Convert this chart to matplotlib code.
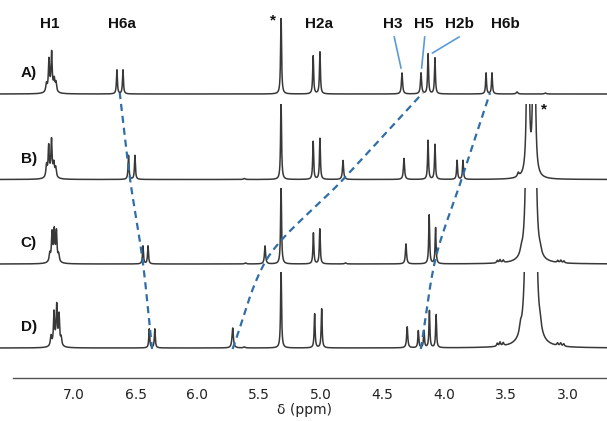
import numpy as np
import matplotlib
matplotlib.use("Agg")
import matplotlib.pyplot as plt
from matplotlib.patches import Rectangle

# ---------------- data ----------------
# each peak: (shift in ppm, intensity, half width at half max in ppm)
spectrum_labels = ["A)", "B)", "C)", "D)"]

peaks_A = [
    (7.223, 8, 0.006), (7.203, 30, 0.005), (7.181, 35, 0.005), (7.160, 11, 0.006), (7.146, 9, 0.006),
    (7.185, 6, 0.025),
    (6.652, 24, 0.0045), (6.603, 24, 0.0045),
    (5.322, 80, 0.0045),
    (5.062, 38, 0.0045), (5.007, 42, 0.0045),
    (4.342, 21, 0.0055),
    (4.188, 21, 0.0055),
    (4.131, 40, 0.0045), (4.075, 36, 0.0045),
    (3.661, 21, 0.0045), (3.613, 21, 0.0045),
    (3.410, 2, 0.008), (3.180, 1, 0.008),
]

peaks_B = [
    (7.222, 12, 0.006), (7.205, 29, 0.005), (7.182, 33, 0.005), (7.163, 12, 0.006), (7.148, 9, 0.006),
    (7.185, 6, 0.025),
    (6.558, 24, 0.0045), (6.506, 24, 0.0045),
    (5.322, 80, 0.0045),
    (5.062, 38, 0.0045), (5.007, 41, 0.0045),
    (4.820, 19, 0.0055),
    (4.326, 21, 0.0055),
    (4.131, 39, 0.0045), (4.075, 35, 0.0045),
    (3.896, 19, 0.0045), (3.848, 19, 0.0045),
    (3.400, 4, 0.008), (5.620, 1, 0.008),
    (3.322, 620, 0.005), (3.272, 620, 0.005),
]

peaks_C = [
    (7.196, 8, 0.006), (7.178, 27, 0.005), (7.160, 27, 0.005), (7.142, 28, 0.005), (7.124, 7, 0.006),
    (7.160, 6, 0.025),
    (6.441, 18, 0.0045), (6.400, 18, 0.0045),
    (5.452, 18, 0.0055),
    (5.322, 80, 0.0045),
    (5.060, 31, 0.0045), (5.008, 35, 0.0045),
    (4.310, 20, 0.0055),
    (4.122, 49, 0.0045), (4.070, 36, 0.0045),
    (5.610, 1, 0.008), (4.800, 1, 0.008),
    (3.322, 1450, 0.005), (3.272, 1450, 0.005),
    (3.375, 5, 0.010), (3.222, 4, 0.010),
    (3.570, 2.5, 0.006), (3.548, 3, 0.006), (3.522, 2.5, 0.006),
    (3.080, 2, 0.006), (3.055, 2.5, 0.006), (3.030, 2, 0.006),
]

peaks_D = [
    (7.186, 10, 0.006), (7.162, 31, 0.005), (7.140, 36, 0.005), (7.121, 29, 0.005), (7.104, 8, 0.006),
    (7.145, 6, 0.025),
    (6.390, 19, 0.0045), (6.345, 19, 0.0045),
    (5.714, 20, 0.0065),
    (5.322, 80, 0.0045),
    (5.050, 34, 0.0045), (4.993, 39, 0.0045),
    (4.300, 21, 0.0055),
    (4.210, 17, 0.0045), (4.164, 17, 0.0045),
    (4.120, 37, 0.0045), (4.066, 33, 0.0045),
    (5.620, 1, 0.008),
    (3.322, 2300, 0.005), (3.272, 2300, 0.005),
    (3.382, 8, 0.010), (3.222, 7, 0.010),
    (3.570, 3, 0.006), (3.548, 4, 0.006), (3.522, 3, 0.006),
    (3.082, 2.5, 0.006), (3.057, 3, 0.006), (3.032, 2.5, 0.006),
]

all_peaks = [peaks_A, peaks_B, peaks_C, peaks_D]

# shifts followed by the dashed guide lines (one value per spectrum A..D)
track_H6a = [6.628, 6.545, 6.440, 6.368]
track_H5 = [4.182, 4.820, 5.460, 5.712]
track_H6b = [3.632, 3.860, 4.080, 4.188]

# peak assignment labels: (text, shift)
top_labels = [("H1", 7.194), ("H6a", 6.611), ("H2a", 5.015), ("H3", 4.415),
              ("H5", 4.164), ("H2b", 3.880), ("H6b", 3.507)]
# leader lines: label shift -> peak shift
leaders = [(4.405, 4.350), (4.158, 4.183), (3.880, 4.095)]

tick_values = [7.0, 6.5, 6.0, 5.5, 5.0, 4.5, 4.0, 3.5, 3.0]


def pchip(xk, yk, xq):
    """Monotone cubic Hermite interpolation (Fritsch-Carlson)."""
    xk = np.asarray(xk, float)
    yk = np.asarray(yk, float)
    h = np.diff(xk)
    d = np.diff(yk) / h
    m = np.zeros_like(yk)
    for i in range(1, len(xk) - 1):
        if d[i - 1] * d[i] > 0:
            w1 = 2 * h[i] + h[i - 1]
            w2 = h[i] + 2 * h[i - 1]
            m[i] = (w1 + w2) / (w1 / d[i - 1] + w2 / d[i])
    m[0] = d[0]
    m[-1] = d[-1]
    out = np.empty_like(xq, dtype=float)
    for j, xv in enumerate(xq):
        i = np.clip(np.searchsorted(xk, xv) - 1, 0, len(xk) - 2)
        t = (xv - xk[i]) / h[i]
        h00 = 2 * t ** 3 - 3 * t ** 2 + 1
        h10 = t ** 3 - 2 * t ** 2 + t
        h01 = -2 * t ** 3 + 3 * t ** 2
        h11 = t ** 3 - t ** 2
        out[j] = h00 * yk[i] + h10 * h[i] * m[i] + h01 * yk[i + 1] + h11 * h[i] * m[i + 1]
    return out


# ---------------- layout ----------------
W, H = 607, 421
fig = plt.figure(figsize=(W / 100, H / 100), dpi=100)
ax_bottom_px = 378
ax = fig.add_axes([13 / W, (H - ax_bottom_px) / H, 1 - 13 / W, ax_bottom_px / H])
ax.set_xlim(7.494, 2.681)
ax.set_ylim(0, ax_bottom_px)

baselines = [284, 198.5, 114, 30]   # y (px above axis line) for A..D
clip_height = 76

x = np.linspace(7.6, 2.6, 60000)
trace_color = "#383838"
for peaks, base in zip(all_peaks, baselines):
    y = np.zeros_like(x)
    for pos, inten, w in peaks:
        y += inten * w ** 2 / ((x - pos) ** 2 + w ** 2)
    line, = ax.plot(x, base + y, color=trace_color, lw=1.1, solid_joinstyle="round")
    rect = Rectangle((7.6, base - 20), -5.0, 20 + clip_height, transform=ax.transData,
                     facecolor="none", edgecolor="none")
    line.set_clip_path(rect)

# dashed guide curves
dash_color = "#2f6ea8"
ys_sorted = baselines[::-1]
yy = np.linspace(baselines[-1] - 1, baselines[0] + 1, 300)
for track in (track_H6a, track_H5, track_H6b):
    xx = pchip(ys_sorted, track[::-1], yy)
    ax.plot(xx, yy, color=dash_color, lw=1.6,
            linestyle=(0, (3.2, 2.2)), clip_on=False)

# labels
lab_font = dict(family=["Liberation Sans", "DejaVu Sans"], fontsize=11, fontweight="bold")
label_y = ax_bottom_px - 24
for txt, pos in top_labels:
    ax.text(pos, label_y, txt, ha="center", va="center", color="#111111", clip_on=False, **lab_font)
ax.text(5.385, ax_bottom_px - 20, "*", ha="center", va="center", color="#111111", clip_on=False, **lab_font)
ax.text(3.190, ax_bottom_px - 109, "*", ha="center", va="center", color="#111111", clip_on=False, **lab_font)

lead_color = "#5b9bd5"
for top_pos, bot_pos in leaders[:2]:
    ax.plot([top_pos, bot_pos], [ax_bottom_px - 37, ax_bottom_px - 68], color=lead_color, lw=1.2, clip_on=False)
ax.plot([leaders[2][0], leaders[2][1]], [ax_bottom_px - 37, ax_bottom_px - 53], color=lead_color, lw=1.2, clip_on=False)

for lbl, base in zip(spectrum_labels, baselines):
    ax.text(7.365, base + 21, lbl, ha="center", va="center", color="#111111", clip_on=False, **lab_font)

# axis
for s in ("left", "right", "top"):
    ax.spines[s].set_visible(False)
ax.spines["bottom"].set_color("#555555")
ax.spines["bottom"].set_linewidth(1.0)
ax.set_yticks([])
ax.set_xticks(tick_values)
ax.set_xticklabels([f"{v:.1f}" for v in tick_values])
ax.tick_params(axis="x", length=0, pad=7, labelsize=10, labelcolor="#222222")
for t in ax.get_xticklabels():
    t.set_fontfamily("DejaVu Sans")
ax.text(5.13, -32, "δ (ppm)", ha="center", va="center", fontsize=10,
        family="DejaVu Sans", color="#222222", clip_on=False)

fig.savefig("out.png", dpi=100)
